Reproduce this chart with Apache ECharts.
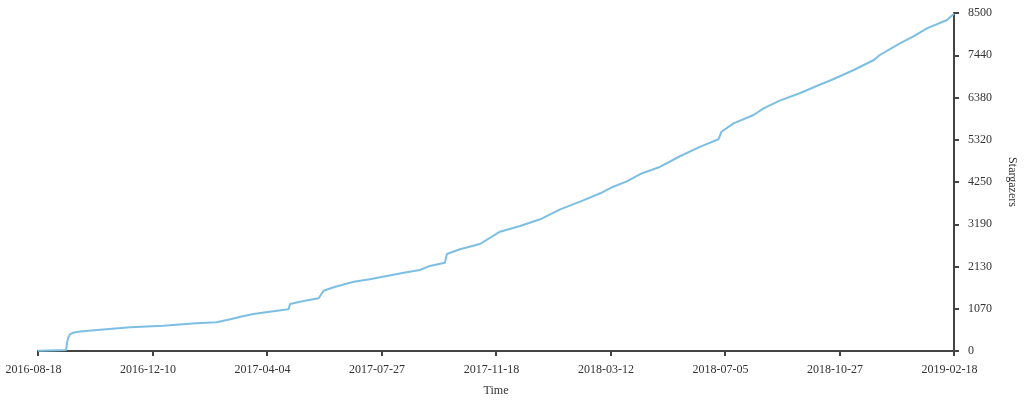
<!DOCTYPE html>
<html>
<head>
<meta charset="utf-8">
<script src="https://cdn.jsdelivr.net/npm/echarts@6/dist/echarts.min.js"></script>
<style>
html,body{margin:0;padding:0;background:#fff;}
#chart{width:1024px;height:400px;}
</style>
</head>
<body>
<div id="chart"></div>
<script>
// days since 2016-08-18
var days = [0, 28, 29, 30, 32, 35, 42, 59, 92, 125, 158, 178, 192, 202, 215, 231, 250, 251.5, 265, 280, 285, 295, 315, 331, 348, 365, 381, 391, 406, 408, 421, 441, 461, 481, 501, 521, 541, 561, 574, 587, 601, 621, 641, 661, 679, 682, 694, 714, 724, 740, 760, 777, 794, 814, 834, 840, 860, 873, 887, 907, 914];
var stars = [5, 25, 200, 330, 420, 460, 490, 528, 596, 636, 697, 722, 797, 863, 930, 988, 1049, 1182, 1257, 1325, 1516, 1602, 1743, 1803, 1886, 1969, 2037, 2140, 2221, 2439, 2558, 2691, 3000, 3144, 3312, 3563, 3755, 3966, 4132, 4258, 4451, 4635, 4904, 5138, 5324, 5515, 5726, 5935, 6103, 6295, 6481, 6664, 6840, 7067, 7318, 7444, 7738, 7904, 8115, 8324, 8480];
var xTickLabels = ['2016-08-18', '2016-12-10', '2017-04-04', '2017-07-27', '2017-11-18', '2018-03-12', '2018-07-05', '2018-10-27', '2019-02-18'];
var yTickLabels = ['0', '1070', '2130', '3190', '4250', '5320', '6380', '7440', '8500'];

var totalDays = 914;
var yMax = 8500;
var data = days.map(function (d, i) { return [d, stars[i]]; });

var font = 'Liberation Serif, Times New Roman, serif';
var axisColor = '#444';

var chart = echarts.init(document.getElementById('chart'), null, {renderer: 'canvas'});
chart.setOption({
  animation: false,
  backgroundColor: '#fff',
  grid: {left: 38, right: 70, top: 13, bottom: 49, containLabel: false, outerBoundsMode: 'none'},
  xAxis: {
    type: 'value',
    min: 0,
    max: totalDays,
    interval: totalDays / 8,
    name: 'Time',
    nameLocation: 'middle',
    nameGap: 34,
    nameTextStyle: {fontFamily: font, fontSize: 12, color: '#333'},
    axisLine: {show: true, onZero: false, lineStyle: {color: axisColor, width: 2}},
    axisTick: {show: true, length: 5, lineStyle: {color: axisColor, width: 2}},
    splitLine: {show: false},
    axisLabel: {
      fontFamily: font, fontSize: 12, color: '#333', margin: 13, padding: [0, 9, 0, 0],
      formatter: function (v) { return xTickLabels[Math.round(v / (totalDays / 8))]; }
    }
  },
  yAxis: {
    type: 'value',
    position: 'right',
    min: 0,
    max: yMax,
    interval: yMax / 8,
    name: 'Stargazers',
    nameLocation: 'middle',
    nameGap: 52,
    nameRotate: -90,
    nameTextStyle: {fontFamily: font, fontSize: 12, color: '#333'},
    axisLine: {show: true, onZero: false, lineStyle: {color: axisColor, width: 2}},
    axisTick: {show: true, length: 5, lineStyle: {color: axisColor, width: 2}},
    splitLine: {show: false},
    axisLabel: {
      fontFamily: font, fontSize: 12, color: '#333', margin: 14,
      formatter: function (v) { return yTickLabels[Math.round(v / (yMax / 8))]; }
    }
  },
  series: [{
    type: 'line',
    data: data,
    showSymbol: false,
    smooth: false,
    lineStyle: {color: '#7dbfe3', width: 2},
    itemStyle: {color: '#7dbfe3'}
  }]
});
</script>
</body>
</html>
